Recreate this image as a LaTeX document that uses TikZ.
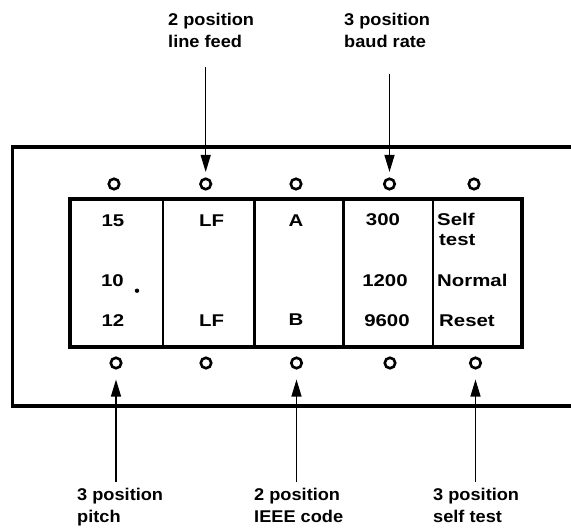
\documentclass[tikz,border=0pt]{standalone}
\usepackage{fontspec}
\setmainfont{Liberation Sans}
\newfontfamily\cellfont[FakeStretch=1.2]{Liberation Sans}
\newfontfamily\lblfont[FakeStretch=1.07]{Liberation Sans}
\usetikzlibrary{arrows.meta}

\begin{document}
\begin{tikzpicture}[x=1pt, y=-1pt,
		lbl/.style={anchor=base west, align=left, inner sep=0pt, font=\lblfont\fontsize{17}{22}\selectfont\bfseries},
		cell/.style={anchor=base, inner sep=0pt, font=\cellfont\fontsize{17}{22}\selectfont\bfseries},
		cellw/.style={cell, anchor=base west},
		sw/.style={circle, draw, line width=2.6pt, minimum size=10.5pt, inner sep=0pt},
		ptr/.style={line width=1.3pt, -{Triangle[length=17pt, width=10pt]}}]
	\useasboundingbox (0,0) rectangle (571,531);
	% panel, open at the right
	\draw[line width=3.4pt] (571,147) -- (12.5,147) -- (12.5,406) -- (571,406);
	% switch block
	\draw[line width=3.2pt] (70,199) rectangle (522,347);
	\draw[line width=2.4pt] (163,199) -- (163,347);
	\draw[line width=2.4pt] (254.5,199) -- (254.5,347);
	\draw[line width=2.4pt] (343.5,199) -- (343.5,347);
	\draw[line width=2.4pt] (432.7,199) -- (432.7,347);
	% switch positions
	\node[sw] (t1) at (114,184) {};
	\node[sw] (t2) at (205.7,184) {};
	\node[sw] (t3) at (296,184) {};
	\node[sw] (t4) at (389.5,184) {};
	\node[sw] (t5) at (474,184) {};
	\node[sw] (b1) at (116,363) {};
	\node[sw] (b2) at (206,363) {};
	\node[sw] (b3) at (296.5,363) {};
	\node[sw] (b4) at (390,363) {};
	\node[sw] (b5) at (475.5,363) {};
	% settings
	\node[cell] (p15) at (113,226.5) {15};
	\node[cell] (p10) at (112.5,286.5) {10};
	\node[cell] (p12) at (113,326.5) {12};
	\fill (137,290.7) circle (2.2pt);
	\node[cell] (lf1) at (211.5,226.5) {LF};
	\node[cell] (lf2) at (211.5,326.5) {LF};
	\node[cell] (ca) at (296,226) {A};
	\node[cell] (cb) at (296,325) {B};
	\node[cell] (r300) at (383,225.5) {300};
	\node[cell] (r1200) at (385,286.5) {1200};
	\node[cell] (r9600) at (387,326) {9600};
	\node[cellw] (self) at (437,225) {Self};
	\node[cellw] (test) at (439,245.5) {test};
	\node[cellw] (norm) at (437,286.5) {Normal};
	\node[cellw] (reset) at (439,326) {Reset};
	% labels (base = last line)
	\node[lbl] (lfeed) at (168,47) {2 position\\line feed};
	\node[lbl] (baud) at (344,47) {3 position\\baud rate};
	\node[lbl] (pitch) at (77,522) {3 position\\pitch};
	\node[lbl] (ieee) at (254,522) {2 position\\IEEE code};
	\node[lbl] (stest) at (433,522) {3 position\\self test};
	\node[shape=coordinate] (a) at (205.7,67) {};
	\node[shape=coordinate] (b) at (389.5,74) {};
	\node[shape=coordinate] (c) at (116,482) {};
	\node[shape=coordinate] (d) at (296.5,482) {};
	\node[shape=coordinate] (e) at (475.5,482) {};
	\draw[ptr, shorten >=5.5pt] (a) -- (t2);
	\draw[ptr, shorten >=5.5pt] (b) -- (t4);
	\draw[ptr, shorten >=10pt] (c) -- (b1);
	\draw[ptr, shorten >=10pt] (d) -- (b3);
	\draw[ptr, shorten >=10pt] (e) -- (b5);
\end{tikzpicture}
\end{document}
